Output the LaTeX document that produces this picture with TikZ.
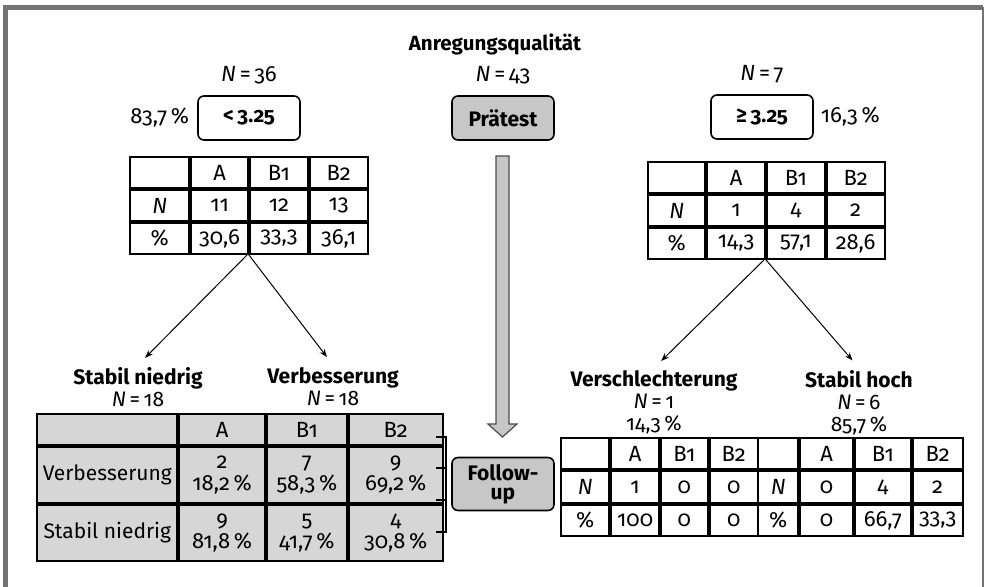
\documentclass[tikz,border=0pt]{standalone}
\usepackage{fontspec}
\setmainfont{Fira Sans}[Numbers=OldStyle]
\usetikzlibrary{matrix,positioning,arrows.meta}
\definecolor{boxgray}{gray}{0.78}
\definecolor{tabgray}{gray}{0.84}
\definecolor{framegray}{gray}{0.45}
\newcommand{\zeilen}[2]{\begin{tabular}{@{}c@{}}#1\\#2\end{tabular}}

\begin{document}
\begin{tikzpicture}[
x=0.5pt, y=-0.5pt,
font=\fontsize{11pt}{13pt}\selectfont,
rbox/.style={rectangle, rounded corners=3pt, draw=black, line width=0.8pt, minimum width=51pt, minimum height=22pt, font=\fontsize{10.5pt}{9.5pt}\selectfont\bfseries},
gbox/.style={rbox, fill=boxgray},
tab/.style={matrix of nodes, nodes in empty cells, anchor=north west, inner sep=0pt, column sep=0pt, row sep=0pt,
  nodes={rectangle, draw=black, line width=0.9pt, anchor=center, outer sep=0pt, inner sep=1pt, minimum height=15.5pt}},
lab/.style={align=center, anchor=north, inner sep=1pt, font=\fontsize{10.5pt}{11pt}\selectfont},
arr/.style={-{Stealth[length=4pt, width=3pt]}, line width=0.5pt, shorten >=5pt},
]
\useasboundingbox (0,0) rectangle (986,587);
\draw[framegray, line width=2.5pt] (5.5,600) -- (5.5,7.5) -- (983,7.5);
\draw[framegray, line width=1.2pt] (983,7.5) -- (983,600);

\node (title) at (495,44) {\fontsize{10.25pt}{12pt}\selectfont\bfseries Anregungsqualität};

\node[rbox] (lo) at (249,118) {<\,3.25};
\node[gbox] (pre) at (503,118) {Prätest};
\node[rbox] (hi) at (762,117) {≥\,3.25};
\node (plo) [left=0.5pt of lo] {83,7\,\%};
\node (phi) [right=0pt of hi] {16,3\,\%};
\node (n36) [above=2pt of lo] {\textit{N}\,=\,36};
\node (n43) [above=2pt of pre] {\textit{N}\,=\,43};
\node (n7) [above=2pt of hi] {\textit{N}\,=\,7};

\matrix (ltab) [tab, column 1/.style={nodes={minimum width=29.5pt}}, column 2/.style={nodes={minimum width=28.5pt}},
  column 3/.style={nodes={minimum width=29pt}}, column 4/.style={nodes={minimum width=29pt}}] at (129,156) {
  & A & B1 & B2 \\
  \textit{N} & 11 & 12 & 13 \\
  \% & 30,6 & 33,3 & 36,1 \\
};
\matrix (rtab) [tab, column 1/.style={nodes={minimum width=28.5pt}}, column 2/.style={nodes={minimum width=29pt}},
  column 3/.style={nodes={minimum width=29pt}}, column 4/.style={nodes={minimum width=29pt}}] at (647,161) {
  & A & B1 & B2 \\
  \textit{N} & 1 & 4 & 2 \\
  \% & 14,3 & 57,1 & 28,6 \\
};

\node[lab] (sn) at (138,365) {\bfseries Stabil niedrig\\\textit{N}\,=\,18};
\node[lab] (vb) at (333,365) {\bfseries Verbesserung\\\textit{N}\,=\,18};
\node[lab] (vs) at (654,368) {\bfseries Verschlechterung\\\textit{N}\,=\,1\\14,3\,\%};
\node[lab] (sh) at (859,368) {\bfseries Stabil hoch\\\textit{N}\,=\,6\\85,7\,\%};

\draw[arr] (ltab-3-2.south east) -- (sn.north);
\draw[arr] (ltab-3-2.south east) -- (vb.north);
\draw[arr] (rtab-3-2.south east) -- (vs.north);
\draw[arr] (rtab-3-2.south east) -- (sh.north);

\matrix (lbtab) [tab, nodes={fill=tabgray, font=\fontsize{11pt}{11pt}\selectfont},
  column 1/.style={nodes={minimum width=70pt, font=\fontsize{10.5pt}{11pt}\selectfont}}, column 2/.style={nodes={minimum width=43pt}},
  column 3/.style={nodes={minimum width=40pt}}, column 4/.style={nodes={minimum width=47pt}},
  row 2/.style={nodes={minimum height=28pt}}, row 3/.style={nodes={minimum height=28pt}}] at (36,413) {
  & A & B1 & B2 \\
  Verbesserung & \zeilen{2}{18,2\,\%} & \zeilen{7}{58,3\,\%} & \zeilen{9}{69,2\,\%} \\
  Stabil niedrig & \zeilen{9}{81,8\,\%} & \zeilen{5}{41,7\,\%} & \zeilen{4}{30,8\,\%} \\
};
\draw[line width=0.9pt] (436,437) -- (446,437) -- (446,532) -- (436,532)
  (436,468) -- (446,468) (436,500) -- (446,500);

\matrix (vstab) [tab, column 1/.style={nodes={minimum width=24pt}}, column 2/.style={nodes={minimum width=24pt}},
  column 3/.style={nodes={minimum width=23.5pt}}, column 4/.style={nodes={minimum width=24pt}},
  row 2/.style={nodes={minimum height=16pt}}] at (560,437) {
  & A & B1 & B2 \\
  \textit{N} & 1 & 0 & 0 \\
  \% & 100 & 0 & 0 \\
};
\matrix (shtab) [tab, column 1/.style={nodes={minimum width=20pt}}, column 2/.style={nodes={minimum width=26.5pt}},
  column 3/.style={nodes={minimum width=28pt}}, column 4/.style={nodes={minimum width=25pt}},
  row 2/.style={nodes={minimum height=16pt}}] at (757,437) {
  & A & B1 & B2 \\
  \textit{N} & 0 & 4 & 2 \\
  \% & 0 & 66,7 & 33,3 \\
};

\node[gbox, minimum height=24pt, align=center] (fu) at (503,484) {Follow-\\up};
\draw[draw=black!70, fill=boxgray, line width=0.6pt] (496,156) -- (509,156) -- (509,424) -- (517,424)
  -- (502.5,437) -- (488,424) -- (496,424) -- cycle;
\end{tikzpicture}
\end{document}
